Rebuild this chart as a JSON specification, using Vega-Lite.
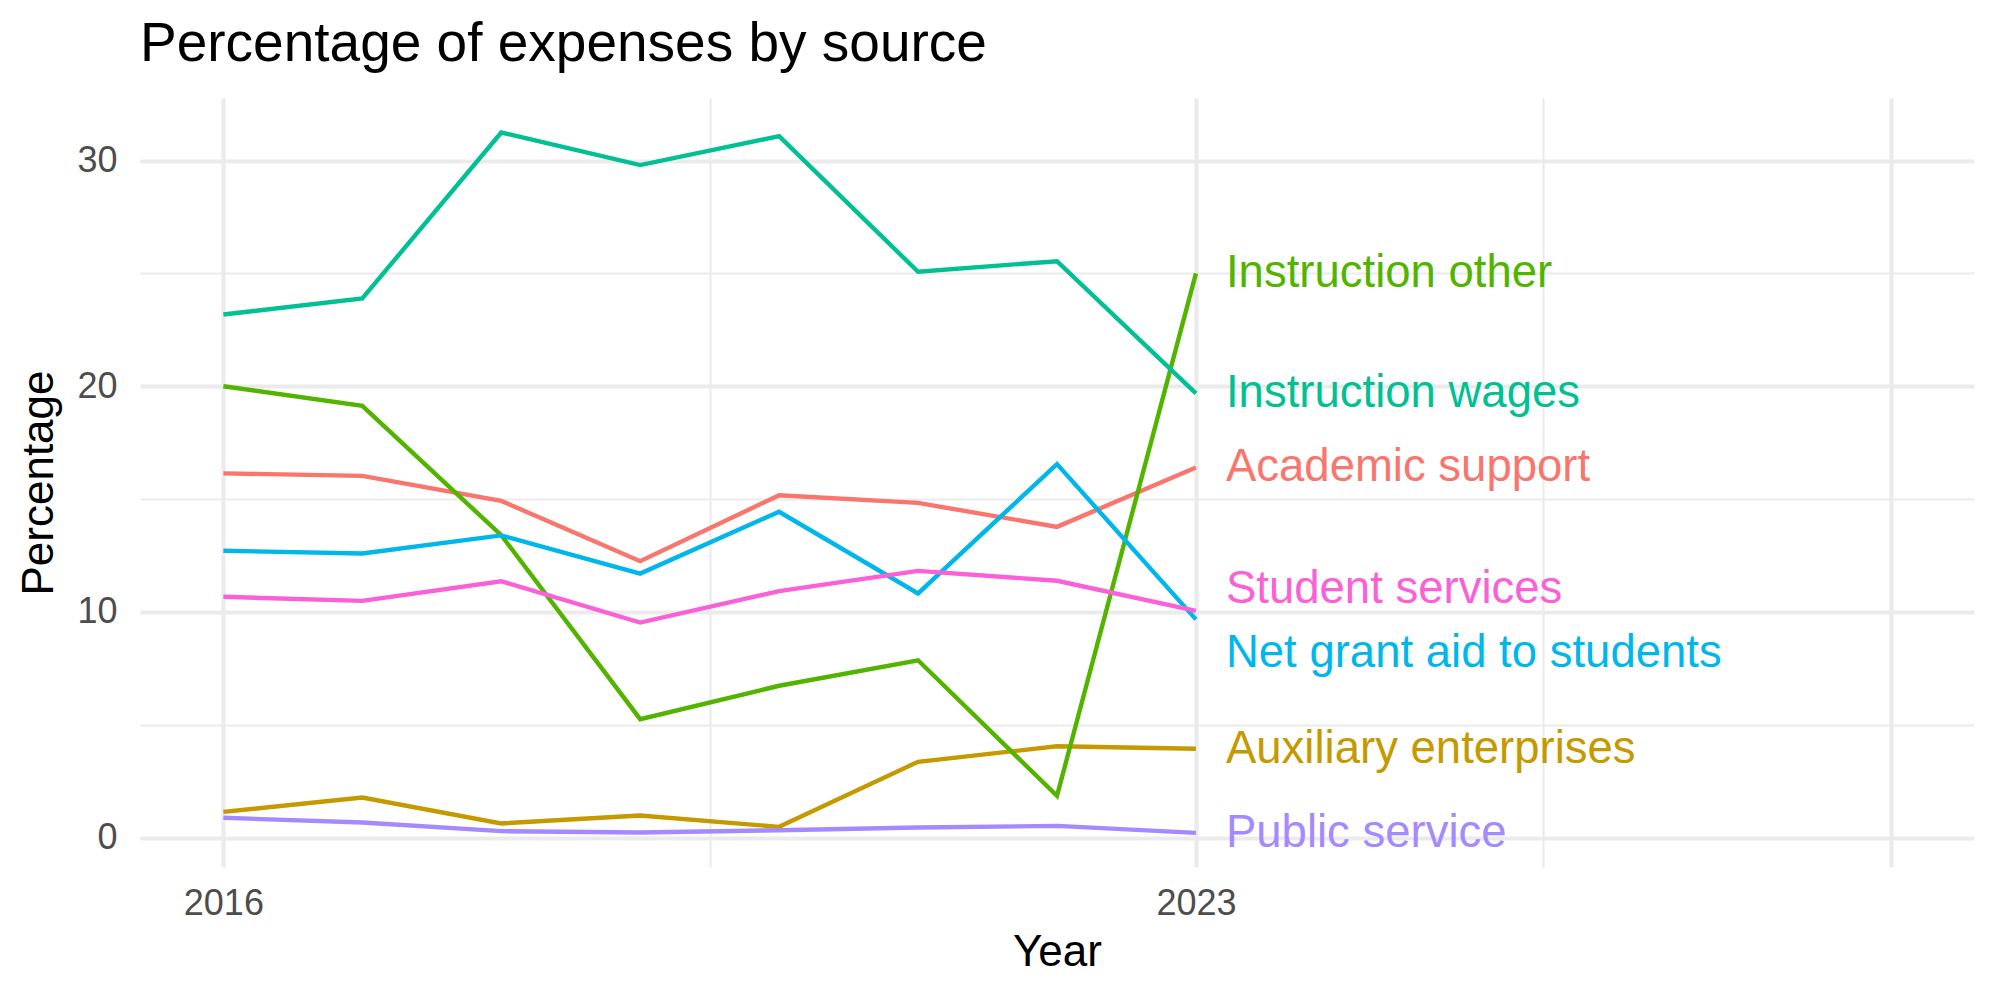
{
  "$schema": "https://vega.github.io/schema/vega-lite/v6.json",
  "width": 1834,
  "height": 769,
  "autosize": {"type": "none"},
  "padding": {"left": 140, "top": 98, "right": 26, "bottom": 133},
  "background": "white",
  "title": {
    "text": "Percentage of expenses by source",
    "anchor": "start",
    "frame": "group",
    "font": "Liberation Sans",
    "fontSize": 55,
    "fontWeight": "normal",
    "color": "#000000",
    "baseline": "alphabetic",
    "offset": -18
  },
  "data": {
    "values": [
      {"year": 2016, "source": "Academic support", "pct": 16.14},
      {"year": 2017, "source": "Academic support", "pct": 16.03},
      {"year": 2018, "source": "Academic support", "pct": 14.92},
      {"year": 2019, "source": "Academic support", "pct": 12.25},
      {"year": 2020, "source": "Academic support", "pct": 15.17},
      {"year": 2021, "source": "Academic support", "pct": 14.83},
      {"year": 2022, "source": "Academic support", "pct": 13.77},
      {"year": 2023, "source": "Academic support", "pct": 16.40},
      {"year": 2016, "source": "Auxiliary enterprises", "pct": 1.14},
      {"year": 2017, "source": "Auxiliary enterprises", "pct": 1.78},
      {"year": 2018, "source": "Auxiliary enterprises", "pct": 0.63},
      {"year": 2019, "source": "Auxiliary enterprises", "pct": 0.98},
      {"year": 2020, "source": "Auxiliary enterprises", "pct": 0.48},
      {"year": 2021, "source": "Auxiliary enterprises", "pct": 3.36},
      {"year": 2022, "source": "Auxiliary enterprises", "pct": 4.05},
      {"year": 2023, "source": "Auxiliary enterprises", "pct": 3.94},
      {"year": 2016, "source": "Instruction other", "pct": 20.0},
      {"year": 2017, "source": "Instruction other", "pct": 19.13},
      {"year": 2018, "source": "Instruction other", "pct": 13.4},
      {"year": 2019, "source": "Instruction other", "pct": 5.25},
      {"year": 2020, "source": "Instruction other", "pct": 6.73},
      {"year": 2021, "source": "Instruction other", "pct": 7.86},
      {"year": 2022, "source": "Instruction other", "pct": 1.85},
      {"year": 2023, "source": "Instruction other", "pct": 25.0},
      {"year": 2016, "source": "Instruction wages", "pct": 23.18},
      {"year": 2017, "source": "Instruction wages", "pct": 23.89},
      {"year": 2018, "source": "Instruction wages", "pct": 31.24},
      {"year": 2019, "source": "Instruction wages", "pct": 29.80},
      {"year": 2020, "source": "Instruction wages", "pct": 31.08},
      {"year": 2021, "source": "Instruction wages", "pct": 25.07},
      {"year": 2022, "source": "Instruction wages", "pct": 25.54},
      {"year": 2023, "source": "Instruction wages", "pct": 19.68},
      {"year": 2016, "source": "Net grant aid to students", "pct": 12.71},
      {"year": 2017, "source": "Net grant aid to students", "pct": 12.59},
      {"year": 2018, "source": "Net grant aid to students", "pct": 13.39},
      {"year": 2019, "source": "Net grant aid to students", "pct": 11.70},
      {"year": 2020, "source": "Net grant aid to students", "pct": 14.44},
      {"year": 2021, "source": "Net grant aid to students", "pct": 10.82},
      {"year": 2022, "source": "Net grant aid to students", "pct": 16.55},
      {"year": 2023, "source": "Net grant aid to students", "pct": 9.67},
      {"year": 2016, "source": "Public service", "pct": 0.88},
      {"year": 2017, "source": "Public service", "pct": 0.67},
      {"year": 2018, "source": "Public service", "pct": 0.29},
      {"year": 2019, "source": "Public service", "pct": 0.23},
      {"year": 2020, "source": "Public service", "pct": 0.33},
      {"year": 2021, "source": "Public service", "pct": 0.45},
      {"year": 2022, "source": "Public service", "pct": 0.52},
      {"year": 2023, "source": "Public service", "pct": 0.21},
      {"year": 2016, "source": "Student services", "pct": 10.67},
      {"year": 2017, "source": "Student services", "pct": 10.49},
      {"year": 2018, "source": "Student services", "pct": 11.36},
      {"year": 2019, "source": "Student services", "pct": 9.53},
      {"year": 2020, "source": "Student services", "pct": 10.92},
      {"year": 2021, "source": "Student services", "pct": 11.82},
      {"year": 2022, "source": "Student services", "pct": 11.38},
      {"year": 2023, "source": "Student services", "pct": 10.05}
    ]
  },
  "config": {
    "view": {"stroke": null},
    "axis": {
      "labelFont": "Liberation Sans",
      "labelFontSize": 36,
      "labelColor": "#4D4D4D",
      "titleFont": "Liberation Sans",
      "titleFontSize": 44,
      "titleFontWeight": "normal",
      "titleColor": "#000000",
      "ticks": false,
      "domain": false,
      "gridColor": "#EBEBEB"
    }
  },
  "encoding": {
    "x": {
      "field": "year",
      "type": "quantitative",
      "scale": {"domain": [2015.4, 2028.6], "nice": false, "zero": false},
      "axis": {
        "title": "Year",
        "values": [2016, 2019.5, 2023, 2025.5, 2028],
        "format": "d",
        "labelExpr": "(datum.value == 2016 || datum.value == 2023) ? datum.label : ''",
        "labelPadding": 19,
        "titlePadding": 9,
        "labelFlush": false,
        "labelOverlap": false,
        "gridWidth": {"condition": {"test": "datum.value == 2019.5 || datum.value == 2025.5", "value": 2.1}, "value": 4.2}
      }
    },
    "y": {
      "field": "pct",
      "type": "quantitative",
      "scale": {"domain": [-1.3, 32.77], "nice": false, "zero": false},
      "axis": {
        "title": "Percentage",
        "values": [0, 5, 10, 15, 20, 25, 30],
        "labelExpr": "(datum.value % 10 == 0) ? datum.label : ''",
        "labelPadding": 23,
        "titlePadding": 24,
        "titleBaseline": "alphabetic",
        "labelOverlap": false,
        "gridWidth": {"condition": {"test": "datum.value % 10 != 0", "value": 2.1}, "value": 4.2}
      }
    },
    "color": {
      "field": "source",
      "type": "nominal",
      "legend": null,
      "scale": {
        "domain": ["Academic support", "Auxiliary enterprises", "Instruction other", "Instruction wages", "Net grant aid to students", "Public service", "Student services"],
        "range": ["#F8766D", "#C49A00", "#53B400", "#00C094", "#00B6EB", "#A58AFF", "#FB61D7"]
      }
    }
  },
  "layer": [
    {
      "mark": {"type": "line", "strokeWidth": 4.4, "strokeJoin": "miter"}
    },
    {
      "transform": [{"filter": "datum.year == 2023 && datum.source != 'Student services' && datum.source != 'Net grant aid to students'"}],
      "mark": {"type": "text", "align": "left", "baseline": "middle", "dx": 30, "fontSize": 45.5, "font": "Liberation Sans"},
      "encoding": {"text": {"field": "source", "type": "nominal"}}
    },
    {
      "transform": [{"filter": "datum.year == 2023 && datum.source == 'Student services'"}],
      "mark": {"type": "text", "align": "left", "baseline": "middle", "dx": 30, "dy": -22, "fontSize": 45.5, "font": "Liberation Sans"},
      "encoding": {"text": {"field": "source", "type": "nominal"}}
    },
    {
      "transform": [{"filter": "datum.year == 2023 && datum.source == 'Net grant aid to students'"}],
      "mark": {"type": "text", "align": "left", "baseline": "middle", "dx": 30, "dy": 34, "fontSize": 45.5, "font": "Liberation Sans"},
      "encoding": {"text": {"field": "source", "type": "nominal"}}
    }
  ]
}
